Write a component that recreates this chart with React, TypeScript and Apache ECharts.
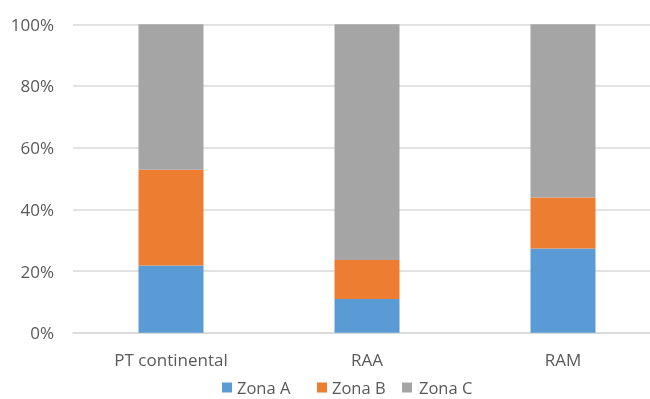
import React, { useEffect, useRef } from "react";
import * as echarts from "echarts";

const categories = ["PT continental", "RAA", "RAM"];
const zonaA = [21.8, 10.9, 27.3];
const zonaB = [31.0, 12.7, 16.5];
const zonaC = [47.2, 76.4, 56.2];
const seriesNames = ["Zona A", "Zona B", "Zona C"];
const colors = ["#5B9BD5", "#ED7D31", "#A5A5A5"];

export default function App() {
  const ref = useRef<HTMLDivElement>(null);
  useEffect(() => {
    document.body.style.margin = "0";
    document.body.style.overflow = "hidden";
    const chart = echarts.init(ref.current!, null, { renderer: "svg" });
    const font = "'Open Sans', sans-serif";
    const data = [zonaA, zonaB, zonaC];
    const legendLefts = [222, 317, 402];
    chart.setOption({
      animation: false,
      textStyle: { fontFamily: font },
      grid: { left: 73, top: 24.3, width: 588, height: 308.4 },
      legend: seriesNames.map((name, i) => ({
        left: legendLefts[i],
        top: 379,
        padding: 0,
        itemWidth: 10,
        itemHeight: 10,
        icon: "rect",
        textStyle: { color: "#595959", fontSize: 16.5, lineHeight: 16, fontFamily: font, padding: [0, 0, 0, i === 2 ? 2 : 0] },
        data: [name],
      })),
      xAxis: {
        type: "category",
        data: categories,
        axisLine: { lineStyle: { color: "#D9D9D9", width: 1.5 } },
        axisTick: { show: false },
        axisLabel: { color: "#595959", fontSize: 17, fontFamily: font, margin: 18.5 },
      },
      yAxis: {
        type: "value",
        min: 0,
        max: 100,
        interval: 20,
        axisLine: { show: false },
        axisTick: { show: false },
        splitLine: { lineStyle: { color: "#D9D9D9", width: 1.5 } },
        axisLabel: { color: "#595959", fontSize: 17, fontFamily: font, margin: 19, formatter: "{value}%" },
      },
      series: seriesNames.map((name, i) => ({
        name,
        type: "bar",
        stack: "total",
        barWidth: 65,
        itemStyle: { color: colors[i] },
        data: data[i],
      })),
    });
    return () => chart.dispose();
  }, []);
  return <div ref={ref} style={{ position: "fixed", left: 0, top: 0, width: 680, height: 399 }} />;
}
